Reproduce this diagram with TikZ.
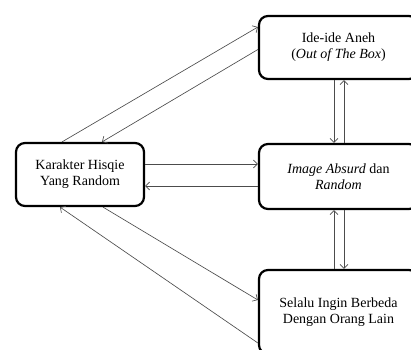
\documentclass[tikz,border=0pt]{standalone}
\usepackage{fontspec}
\setmainfont{Liberation Serif}
\newfontfamily\tnr{Liberation Serif}
\usetikzlibrary{arrows.meta,calc}
\begin{document}
\begin{tikzpicture}[x=1pt,y=-1pt,
  box/.style={draw=black,line width=2.2pt,rounded corners=9pt,align=center,
    font=\tnr\fontsize{14}{16}\selectfont,inner sep=0pt},
  conn/.style={draw=black!70,line width=0.65pt,-{Straight Barb[length=4pt,width=8pt]}}]
\useasboundingbox (0,0) rectangle (411,349);
\clip (0,0) rectangle (411,349);
\node[box,minimum width=159pt,minimum height=63pt] (top) at (338.5,47.5)
  {Ide-ide Aneh\\(\textit{Out of The Box})};
\node[box,minimum width=159pt,minimum height=65pt] (mid) at (338.5,176.5)
  {\textit{Image Absurd} dan\\\textit{Random}};
\node[box,minimum width=159pt,minimum height=84pt] (bot) at (338.5,312)
  {Selalu Ingin Berbeda\\Dengan Orang Lain};
\node[box,minimum width=128pt,minimum height=63pt] (left) at (80,174.5)
  {Karakter Hisqie\\Yang Random};
% diagonals to/from top box
\draw[conn] ($(left.north)+(-18,0)$) -- ($(top.west)+(0,-20.5)$);
\draw[conn] ($(top.west)+(0,2)$) -- ($(left.north)+(22,0)$);
% horizontals
\draw[conn] ($(left.east)+(0,-10.5)$) -- ($(mid.west)+(0,-12.5)$);
\draw[conn] ($(mid.west)+(0,9.5)$) -- ($(left.east)+(0,11.5)$);
% verticals
\draw[conn] ($(top.south)+(-4.5,0)$) -- ($(mid.north)+(-4.5,0)$);
\draw[conn] ($(mid.north)+(5.5,0)$) -- ($(top.south)+(5.5,0)$);
\draw[conn] ($(bot.north)+(-4.5,0)$) -- ($(mid.south)+(-4.5,0)$);
\draw[conn] ($(mid.south)+(5.5,0)$) -- ($(bot.north)+(5.5,0)$);
% diagonals to/from bottom box
\draw[conn] ($(left.south)+(23,0)$) -- ($(bot.west)+(0,-12)$);
\draw[conn] ($(bot.west)+(0,31)$) -- ($(left.south)+(-20,0)$);
\end{tikzpicture}
\end{document}
